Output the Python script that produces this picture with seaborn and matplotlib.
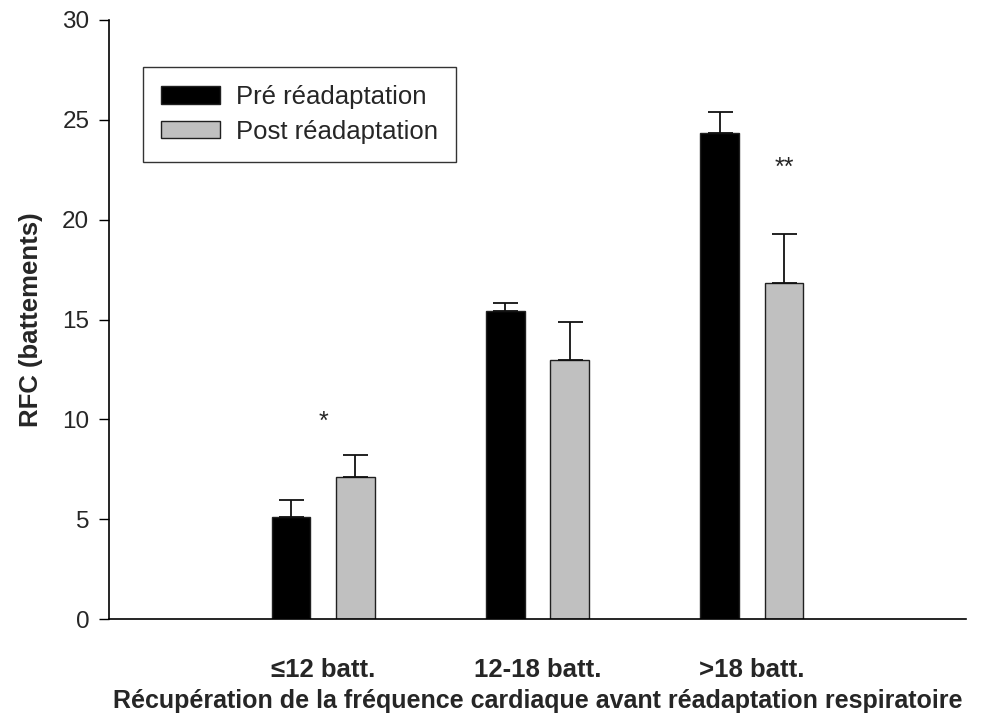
import matplotlib
matplotlib.use("Agg")
import matplotlib.pyplot as plt
import seaborn as sns
import pandas as pd
import numpy as np

categories = ["≤12 batt.", "12-18 batt.", ">18 batt."]
series = ["Pré réadaptation", "Post réadaptation"]
pre_values = [5.1, 15.45, 24.35]
pre_errors = [0.85, 0.4, 1.05]
post_values = [7.1, 12.95, 16.85]
post_errors = [1.1, 1.9, 2.45]
yticks = [0, 5, 10, 15, 20, 25, 30]

sns.set_theme(style="white")
plt.rcParams['font.family'] = ['Liberation Sans', 'DejaVu Sans']

df = pd.DataFrame({
    "cat": categories * 2,
    "serie": [series[0]] * 3 + [series[1]] * 3,
    "val": pre_values + post_values,
})

fig = plt.figure(figsize=(9.85, 7.17), dpi=100)
ax = fig.add_axes([109/985, 1-619/717, 857/985, (619-20)/717])

palette = {series[0]: "#000000", series[1]: "#c0c0c0"}
sns.barplot(data=df, x="cat", y="val", hue="serie", order=categories, hue_order=series,
            palette=palette, width=0.6, gap=0.4, errorbar=None, ax=ax,
            edgecolor="#202020", linewidth=1.0, saturation=1)

# error bars (upward only), positioned from bar patches
errs = {series[0]: pre_errors, series[1]: post_errors}
vals = {series[0]: pre_values, series[1]: post_values}
for cont, s in zip(ax.containers, series):
    xs = [p.get_x() + p.get_width() / 2 for p in cont.patches]
    ax.errorbar(xs, vals[s], yerr=[np.zeros(3), errs[s]], fmt="none",
                ecolor="#111111", elinewidth=1.3, capsize=9, capthick=1.3, zorder=1)

ax.set_xlim(-1, 3)
ax.set_ylim(0, 30)
ax.set_yticks(yticks)
ax.set_yticklabels([str(t) for t in yticks], fontsize=17.5)
ax.tick_params(axis="y", direction="out", length=7.2, width=1, color="black", left=True, pad=7)
ax.tick_params(axis="x", length=0, pad=28)
for lbl in ax.get_xticklabels():
    lbl.set_fontweight("bold")
    lbl.set_fontsize(18.5)

for side in ["top", "right"]:
    ax.spines[side].set_visible(False)
for side in ["left", "bottom"]:
    ax.spines[side].set_color("black")
    ax.spines[side].set_linewidth(1.2)

ax.set_ylabel("RFC (battements)", fontsize=18.5, fontweight="bold", labelpad=14)
ax.set_xlabel("Récupération de la fréquence cardiaque avant réadaptation respiratoire",
              fontsize=18, fontweight="bold", labelpad=5)

ax.text(0, 9.85, "*", ha="center", va="center", fontsize=18)
ax.text(2.15, 22.6, "**", ha="center", va="center", fontsize=18)

leg = ax.legend(loc="upper left", bbox_to_anchor=(0.0397, 0.9215), fontsize=18.5,
                frameon=True, fancybox=False, edgecolor="black", handlelength=2.3,
                handleheight=0.66, borderpad=0.7, labelspacing=0.42, handletextpad=0.6,
                borderaxespad=0)
leg.get_frame().set_linewidth(1.0)

fig.savefig("out.png", dpi=100)
